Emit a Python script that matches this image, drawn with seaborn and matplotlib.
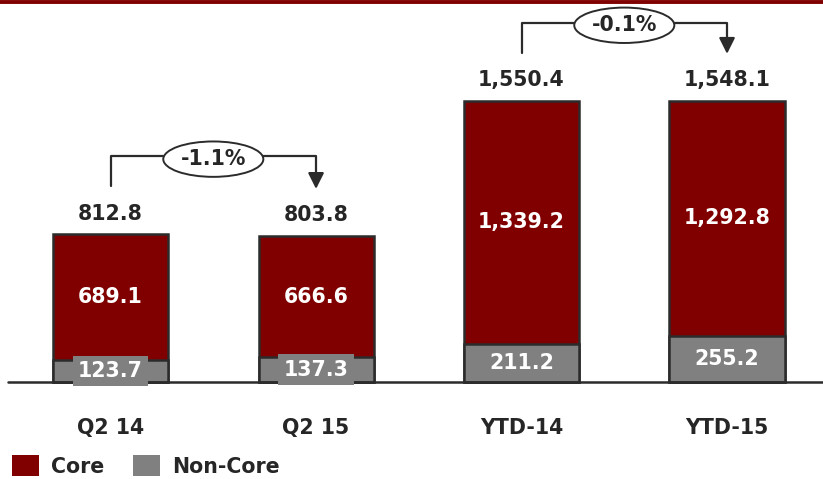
import matplotlib
matplotlib.use("Agg")
import matplotlib.pyplot as plt
import seaborn as sns
import pandas as pd
from matplotlib.patches import Ellipse, Patch

categories = ["Q2 14", "Q2 15", "YTD-14", "YTD-15"]
core = [689.1, 666.6, 1339.2, 1292.8]
non_core = [123.7, 137.3, 211.2, 255.2]
totals = [812.8, 803.8, 1550.4, 1548.1]
changes = ["-1.1%", "-0.1%"]
change_pairs = [(0, 1), (2, 3)]

RED = "#800000"
GRAY = "#808080"
EDGE = "#2b2b2b"
TXT = "#262626"

sns.set_theme(style="white")
plt.rcParams["font.family"] = ["DejaVu Sans"]

df = pd.DataFrame({"cat": categories, "core": core, "non_core": non_core, "total": totals})

fig = plt.figure(figsize=(8.23, 4.79), dpi=100)
ax = fig.add_axes([0, 0, 1, 1])

sns.barplot(data=df, x="cat", y="total", color=RED, width=0.56, edgecolor=EDGE,
            linewidth=1.8, saturation=1, ax=ax)
sns.barplot(data=df, x="cat", y="non_core", color=GRAY, width=0.56, edgecolor=EDGE,
            linewidth=1.8, saturation=1, ax=ax)

ax.set_xlim(-0.538, 3.467)
ax.set_ylim(-534.4, 2104.7)
ax.axis("off")

ax.axhline(0, xmin=8 / 823, xmax=1, color=EDGE, lw=1.8, zorder=5)

fs = 14.8
for i, (c, n, t) in enumerate(zip(core, non_core, totals)):
    ax.text(i, t + 115, f"{t:,.1f}", ha="center", va="center", fontsize=fs,
            fontweight="bold", color=TXT)
    ax.text(i, n + c / 2, f"{c:,.1f}", ha="center", va="center", fontsize=fs,
            fontweight="bold", color="white")
    ax.text(i, n / 2, f"{n:,.1f}", ha="center", va="center", fontsize=fs,
            fontweight="bold", color="white", zorder=6,
            bbox=dict(boxstyle="square,pad=0.25", fc=GRAY, ec="none"))
    ax.text(i, -255, categories[i], ha="center", va="center", fontsize=fs,
            fontweight="bold", color=TXT)

# change brackets
for (a, b), lab in zip(change_pairs, changes):
    y0 = totals[a] + 265
    yh = y0 + 165
    y1 = totals[b] + 260
    mid = (a + b) / 2
    ew = 0.487
    ax.plot([a, a, mid - ew / 2], [y0, yh, yh], color=EDGE, lw=1.6, zorder=4)
    ax.plot([mid + ew / 2, b, b], [yh, yh, y1 + 60], color=EDGE, lw=1.6, zorder=4)
    ax.annotate("", xy=(b, y1), xytext=(b, y1 + 70),
                arrowprops=dict(arrowstyle="-|>,head_length=0.8,head_width=0.4",
                                color=EDGE, lw=1.6, shrinkA=0, shrinkB=0))
    ax.add_patch(Ellipse((mid, yh - 15), ew, 195, fc="white", ec=EDGE, lw=1.4, zorder=5))
    ax.text(mid, yh - 15, lab, ha="center", va="center", fontsize=fs,
            fontweight="bold", color=TXT, zorder=6)

# top rule
fig.add_artist(plt.Line2D([0, 1], [1 - 1.5 / 479, 1 - 1.5 / 479], color=RED, lw=2.8))

handles = [Patch(facecolor=RED, edgecolor="none", label="Core"),
           Patch(facecolor=GRAY, edgecolor="none", label="Non-Core")]
leg = fig.legend(handles=handles, loc="lower left", bbox_to_anchor=(0.011, -0.002),
                 ncol=2, frameon=False, fontsize=fs, handlelength=1.3, handleheight=1.2,
                 handletextpad=0.6, columnspacing=1.4, borderaxespad=0.0,
                 borderpad=0.15)
for t in leg.get_texts():
    t.set_fontweight("bold")
    t.set_color(TXT)

fig.savefig("out.png", dpi=100)
